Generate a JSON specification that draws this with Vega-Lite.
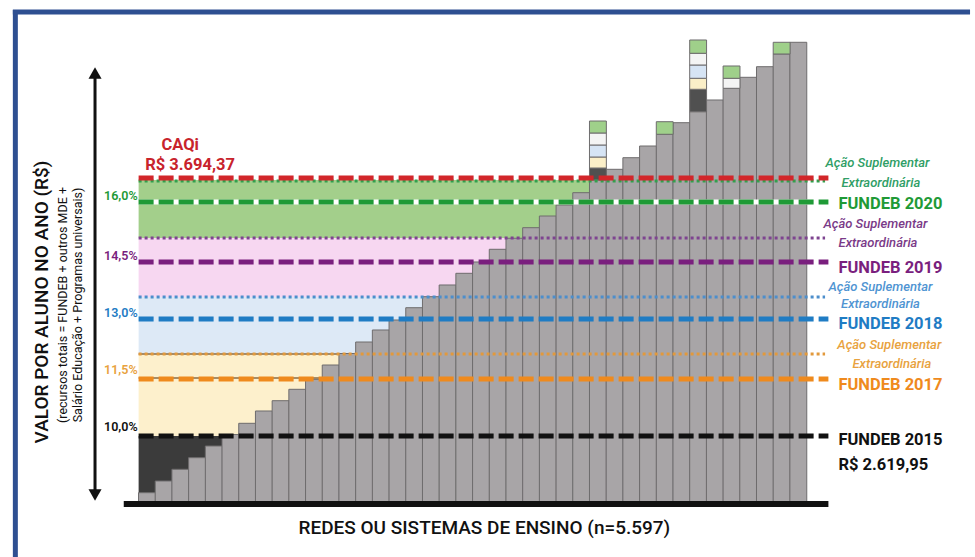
{
  "$schema": "https://vega.github.io/schema/vega-lite/v6.json",
  "width": 975,
  "height": 557,
  "autosize": {"type": "none"},
  "padding": 0,
  "background": "white",
  "config": {"view": {"stroke": null}, "font": "Roboto"},
  "datasets": {
    "frame": [
      {"x": -6.88, "v": 4394.0, "v2": 2116.06, "g": "frame"}
    ],
    "frameTop": [
      {"x": -7.03, "x2": 50.28, "v": 4385.66, "g": "frame"}
    ],
    "bands": [
      {"x": 0.5, "x2": 5.5, "v": 2345.1, "v2": 2619.95, "g": "dark"},
      {"x": 0.5, "x2": 12.5, "v": 2619.95, "v2": 2961.4, "g": "yel"},
      {"x": 0.5, "x2": 17.5, "v": 2961.4, "v2": 3198.8, "g": "blu"},
      {"x": 0.5, "x2": 22.5, "v": 3198.8, "v2": 3444.5, "g": "pink"},
      {"x": 0.5, "x2": 27.5, "v": 3444.5, "v2": 3686.0, "g": "grn"}
    ],
    "bars": [
      {"x": 1, "v": 2383.8, "g": "gray"}, {"x": 2, "v": 2432.6, "g": "gray"},
      {"x": 3, "v": 2481.3, "g": "gray"}, {"x": 4, "v": 2529.6, "g": "gray"},
      {"x": 5, "v": 2578.3, "g": "gray"}, {"x": 6, "v": 2626.0, "g": "gray"},
      {"x": 7, "v": 2672.8, "g": "gray"}, {"x": 8, "v": 2724.1, "g": "gray"},
      {"x": 9, "v": 2767.0, "g": "gray"}, {"x": 10, "v": 2814.4, "g": "gray"},
      {"x": 11, "v": 2856.1, "g": "gray"}, {"x": 12, "v": 2915.6, "g": "gray"},
      {"x": 13, "v": 2963.5, "g": "gray"}, {"x": 14, "v": 3011.4, "g": "gray"},
      {"x": 15, "v": 3061.4, "g": "gray"}, {"x": 16, "v": 3103.0, "g": "gray"},
      {"x": 17, "v": 3154.2, "g": "gray"}, {"x": 18, "v": 3200.1, "g": "gray"},
      {"x": 19, "v": 3248.8, "g": "gray"}, {"x": 20, "v": 3297.5, "g": "gray"},
      {"x": 21, "v": 3344.6, "g": "gray"}, {"x": 22, "v": 3397.5, "g": "gray"},
      {"x": 23, "v": 3443.3, "g": "gray"}, {"x": 24, "v": 3487.4, "g": "gray"},
      {"x": 25, "v": 3536.1, "g": "gray"}, {"x": 26, "v": 3581.9, "g": "gray"},
      {"x": 27, "v": 3633.2, "g": "gray"}, {"x": 28, "v": 3686.0, "g": "gray"},
      {"x": 29, "v": 3730.6, "g": "gray"}, {"x": 30, "v": 3778.9, "g": "gray"},
      {"x": 31, "v": 3827.6, "g": "gray"}, {"x": 32, "v": 3876.4, "g": "gray"},
      {"x": 33, "v": 3924.7, "g": "gray"}, {"x": 34, "v": 3970.5, "g": "gray"},
      {"x": 35, "v": 4019.2, "g": "gray"}, {"x": 36, "v": 4067.9, "g": "gray"},
      {"x": 37, "v": 4113.7, "g": "gray"}, {"x": 38, "v": 4157.9, "g": "gray"},
      {"x": 39, "v": 4210.8, "g": "gray"}, {"x": 40, "v": 4259.5, "g": "gray"}
    ],
    "boxes": [
      {"x": 28, "v": 3686.0, "v2": 3736.0, "g": "bdark"},
      {"x": 28, "v": 3736.0, "v2": 3781.8, "g": "byel"},
      {"x": 28, "v": 3781.8, "v2": 3831.8, "g": "bblu"},
      {"x": 28, "v": 3831.8, "v2": 3881.8, "g": "bwht"},
      {"x": 28, "v": 3881.8, "v2": 3931.7, "g": "bgrn"},
      {"x": 32, "v": 3876.4, "v2": 3928.8, "g": "bgrn"},
      {"x": 34, "v": 3970.5, "v2": 4063.8, "g": "bdark"},
      {"x": 34, "v": 4063.8, "v2": 4109.6, "g": "byel"},
      {"x": 34, "v": 4109.6, "v2": 4165.0, "g": "bblu"},
      {"x": 34, "v": 4165.0, "v2": 4213.7, "g": "bwht"},
      {"x": 34, "v": 4213.7, "v2": 4269.1, "g": "bgrn"},
      {"x": 36, "v": 4067.9, "v2": 4109.6, "g": "bwht"},
      {"x": 36, "v": 4109.6, "v2": 4160.8, "g": "bgrn"},
      {"x": 39, "v": 4210.8, "v2": 4259.5, "g": "bgrn"}
    ],
    "lines": [
      {"x": 0.5, "x2": 41.8, "v": 3594.4, "g": "white", "s": "under"},
      {"x": 0.5, "x2": 12.5, "v": 2961.4, "g": "edge", "s": "thin"},
      {"x": 0.5, "x2": 11.5, "v": 2861.5, "g": "edge", "s": "thin"},
      {"x": 0.5, "x2": 41.6, "v": 3681.9, "g": "a20", "s": "dot"},
      {"x": 0.5, "x2": 41.6, "v": 3444.5, "g": "a19", "s": "dot"},
      {"x": 0.5, "x2": 41.6, "v": 3198.8, "g": "a18", "s": "dot"},
      {"x": 0.5, "x2": 41.6, "v": 2961.4, "g": "a17", "s": "dot"},
      {"x": 0.5, "x2": 41.8, "v": 3694.4, "g": "caqi", "s": "dash"},
      {"x": 0.5, "x2": 41.8, "v": 3594.4, "g": "k20", "s": "dash"},
      {"x": 0.5, "x2": 41.8, "v": 3344.6, "g": "k19", "s": "dash"},
      {"x": 0.5, "x2": 41.8, "v": 3107.2, "g": "k18", "s": "dash"},
      {"x": 0.5, "x2": 41.8, "v": 2857.3, "g": "k17", "s": "dash"},
      {"x": 0.5, "x2": 41.8, "v": 2620.0, "g": "k15", "s": "dash"}
    ],
    "base": [
      {"x": -0.39, "x2": 41.8, "v": 2336.8, "g": "k15"}
    ],
    "arrow": [
      {"x": -2.11, "v": 4119.1, "v2": 2386.7, "g": "k15"}
    ],
    "heads": [
      {"x": -2.11, "v": 4131.6, "sh": "up", "g": "k15"},
      {"x": -2.11, "v": 2374.3, "sh": "down", "g": "k15"}
    ],
    "fundLabels": [
      {"x": 42.4, "v": 3586.1, "t": "FUNDEB 2020", "g": "k20"},
      {"x": 42.4, "v": 3319.6, "t": "FUNDEB 2019", "g": "k19"},
      {"x": 42.4, "v": 3086.4, "t": "FUNDEB 2018", "g": "k18"},
      {"x": 42.4, "v": 2832.3, "t": "FUNDEB 2017", "g": "k17"},
      {"x": 42.4, "v": 2603.3, "t": "FUNDEB 2015", "g": "k15"},
      {"x": 42.4, "v": 2499.2, "t": "R$ 2.619,95", "g": "k15"}
    ],
    "acaoLabels": [
      {"x": 44.74, "v": 3756.8, "t": "Ação Suplementar", "g": "a20t"},
      {"x": 44.94, "v": 3673.6, "t": "Extraordinária", "g": "a20t"},
      {"x": 44.62, "v": 3502.8, "t": "Ação Suplementar", "g": "a19t"},
      {"x": 44.77, "v": 3423.7, "t": "Extraordinária", "g": "a19t"},
      {"x": 44.92, "v": 3240.5, "t": "Ação Suplementar", "g": "a18t"},
      {"x": 44.92, "v": 3169.7, "t": "Extraordinária", "g": "a18t"},
      {"x": 45.45, "v": 2998.9, "t": "Ação Suplementar", "g": "a17t"},
      {"x": 45.6, "v": 2919.8, "t": "Extraordinária", "g": "a17t"}
    ],
    "pctLabels": [
      {"x": 0.44, "v": 3619.4, "t": "16,0%", "g": "k20"},
      {"x": 0.44, "v": 3369.6, "t": "14,5%", "g": "k19"},
      {"x": 0.44, "v": 3132.2, "t": "13,0%", "g": "k18"},
      {"x": 0.44, "v": 2894.8, "t": "11,5%", "g": "a17t"},
      {"x": 0.44, "v": 2657.4, "t": "10,0%", "g": "k15"}
    ],
    "caqiLabels": [
      {"x": 2.99, "v": 3831.8, "t": "CAQi", "g": "caqit"},
      {"x": 3.58, "v": 3748.5, "t": "R$ 3.694,37", "g": "caqit"}
    ],
    "yTitle": [
      {"x": -5.31, "v": 3178.0, "t": "VALOR POR ALUNO NO ANO (R$)", "g": "k15"}
    ],
    "ySub": [
      {"x": -4.05, "v": 3165.5, "t": "(recursos totais = FUNDEB + outros MDE +", "g": "k15"},
      {"x": -3.1, "v": 3165.5, "t": "Salário Educação + Programas universais)", "g": "k15"}
    ],
    "xTitle": [
      {"x": 21.2, "v": 2236.8, "t": "REDES OU SISTEMAS DE ENSINO (n=5.597)", "g": "k15"}
    ]
  },
  "encoding": {
    "x": {"field": "x", "type": "quantitative", "scale": {"domain": [-7.5, 50.2778], "nice": false, "zero": false}, "axis": null},
    "y": {"field": "v", "type": "quantitative", "scale": {"domain": [2116.06, 4435.64], "nice": false, "zero": false}, "axis": null},
    "color": {
      "field": "g", "type": "nominal", "legend": null,
      "scale": {
        "domain": ["k15", "k17", "k18", "k19", "k20", "caqi", "caqit", "a17", "a18", "a19", "a20", "a17t", "a18t", "a19t", "a20t", "dark", "yel", "blu", "pink", "grn", "bdark", "byel", "bblu", "bwht", "bgrn", "gray", "white", "frame", "edge"],
        "range": ["#111111", "#ef8a1d", "#1f7cc4", "#7a1f7e", "#1f9a36", "#d2262a", "#c8232c", "#e2993c", "#4c8ecc", "#7e4490", "#33a04e", "#e8a23e", "#4f94d2", "#7a3a88", "#2f9e66", "#3b3b3b", "#fdf0cc", "#dde9f6", "#f7d7f1", "#a3cf8b", "#505050", "#fbefc8", "#d6e4f4", "#f4f4f4", "#9fd08a", "#a8a5a7", "#ffffff", "#2e4f91", "#8a6d45"]
      }
    }
  },
  "layer": [
    {"data": {"name": "frame"}, "mark": {"type": "rule", "strokeWidth": 5}, "encoding": {"y2": {"field": "v2"}}},
    {"data": {"name": "frameTop"}, "mark": {"type": "rule", "strokeWidth": 5}, "encoding": {"x2": {"field": "x2"}}},
    {"data": {"name": "bands"}, "mark": {"type": "rect"}, "encoding": {"x2": {"field": "x2"}, "y2": {"field": "v2"}}},
    {"data": {"name": "lines"}, "transform": [{"filter": "datum.s === 'thin'"}], "mark": {"type": "rule", "strokeWidth": 1.5}, "encoding": {"x2": {"field": "x2"}}},
    {"data": {"name": "bars"}, "mark": {"type": "bar", "width": 16.875, "stroke": "#6e6c6d", "strokeWidth": 1}, "encoding": {"y2": {"datum": 2345.1}}},
    {"data": {"name": "boxes"}, "mark": {"type": "bar", "width": 16.875, "stroke": "#6e6c6d", "strokeWidth": 1}, "encoding": {"y2": {"field": "v2"}}},
    {"data": {"name": "lines"}, "transform": [{"filter": "datum.s === 'under'"}], "mark": {"type": "rule", "strokeWidth": 5}, "encoding": {"x2": {"field": "x2"}}},
    {"data": {"name": "lines"}, "transform": [{"filter": "datum.s === 'dot'"}], "mark": {"type": "rule", "strokeWidth": 3, "strokeDash": [3, 3]}, "encoding": {"x2": {"field": "x2"}}},
    {"data": {"name": "lines"}, "transform": [{"filter": "datum.s === 'dash'"}], "mark": {"type": "rule", "strokeWidth": 5, "strokeDash": [15, 5]}, "encoding": {"x2": {"field": "x2"}}},
    {"data": {"name": "base"}, "mark": {"type": "rule", "strokeWidth": 6}, "encoding": {"x2": {"field": "x2"}}},
    {"data": {"name": "arrow"}, "mark": {"type": "rule", "strokeWidth": 3}, "encoding": {"y2": {"field": "v2"}}},
    {"data": {"name": "heads"}, "mark": {"type": "point", "filled": true, "opacity": 1, "size": 170}, "encoding": {"shape": {"field": "sh", "type": "nominal", "legend": null, "scale": {"domain": ["up", "down"], "range": ["triangle-up", "triangle-down"]}}}},
    {"data": {"name": "fundLabels"}, "mark": {"type": "text", "align": "left", "baseline": "middle", "fontSize": 16.5, "fontWeight": "bold", "font": "Roboto"}, "encoding": {"text": {"field": "t"}}},
    {"data": {"name": "acaoLabels"}, "mark": {"type": "text", "align": "center", "baseline": "middle", "fontSize": 13, "fontWeight": 500, "fontStyle": "italic", "font": "Roboto"}, "encoding": {"text": {"field": "t"}}},
    {"data": {"name": "pctLabels"}, "mark": {"type": "text", "align": "right", "baseline": "middle", "fontSize": 12.5, "fontWeight": 600, "font": "Roboto"}, "encoding": {"text": {"field": "t"}}},
    {"data": {"name": "caqiLabels"}, "mark": {"type": "text", "align": "center", "baseline": "middle", "fontSize": 16.5, "fontWeight": "bold", "font": "Roboto"}, "encoding": {"text": {"field": "t"}}},
    {"data": {"name": "yTitle"}, "mark": {"type": "text", "align": "center", "baseline": "middle", "angle": 270, "fontSize": 19, "fontWeight": 500, "font": "Roboto"}, "encoding": {"text": {"field": "t"}}},
    {"data": {"name": "ySub"}, "mark": {"type": "text", "align": "center", "baseline": "middle", "angle": 270, "fontSize": 12.5, "font": "Roboto"}, "encoding": {"text": {"field": "t"}}},
    {"data": {"name": "xTitle"}, "mark": {"type": "text", "align": "center", "baseline": "middle", "fontSize": 19, "fontWeight": 500, "font": "Roboto"}, "encoding": {"text": {"field": "t"}}}
  ]
}
